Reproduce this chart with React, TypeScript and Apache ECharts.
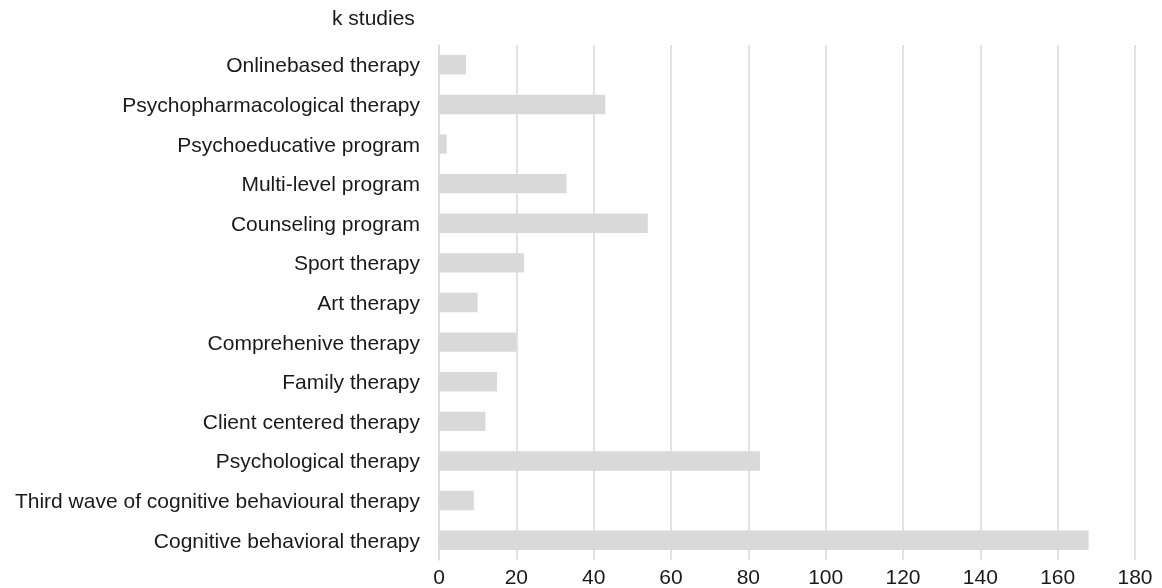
import React, { useEffect, useRef } from "react";
import * as echarts from "echarts";

const categories = [
  "Cognitive behavioral therapy",
  "Third wave of cognitive behavioural therapy",
  "Psychological therapy",
  "Client centered therapy",
  "Family therapy",
  "Comprehenive therapy",
  "Art therapy",
  "Sport therapy",
  "Counseling program",
  "Multi-level program",
  "Psychoeducative program",
  "Psychopharmacological therapy",
  "Onlinebased therapy",
];
const kStudies = [168, 9, 83, 12, 15, 20, 10, 22, 54, 33, 2, 43, 7];
const xTicks = { min: 0, max: 180, interval: 20 };

const FONT = "Liberation Sans, Arial, sans-serif";

export default function App() {
  const ref = useRef<HTMLDivElement>(null);
  useEffect(() => {
    if (!ref.current) return;
    const chart = echarts.init(ref.current, undefined, { renderer: "svg" });
    chart.setOption({
      animation: false,
      textStyle: { fontFamily: FONT },
      graphic: [
        {
          type: "text",
          x: 332,
          y: 17,
          style: {
            text: "k studies",
            fontSize: 21,
            fill: "#1a1a1a",
            fontFamily: FONT,
            verticalAlign: "middle",
          },
        },
      ],
      grid: { left: 439, right: 27, top: 45, bottom: 28, containLabel: false },
      xAxis: {
        type: "value",
        min: xTicks.min,
        max: xTicks.max,
        interval: xTicks.interval,
        axisLine: { show: false },
        axisTick: { show: false },
        splitLine: { show: true, lineStyle: { color: "#d9d9d9", width: 1.5 } },
        axisLabel: { fontSize: 21, color: "#1a1a1a", margin: 6 },
      },
      yAxis: {
        type: "category",
        data: categories,
        axisLine: { show: true, lineStyle: { color: "#d9d9d9", width: 1.5 } },
        axisTick: { show: false },
        axisLabel: { fontSize: 21, color: "#1a1a1a", margin: 19 },
      },
      series: [
        {
          type: "bar",
          data: kStudies,
          barWidth: "49%",
          itemStyle: { color: "#d9d9d9" },
        },
      ],
    });
    return () => chart.dispose();
  }, []);
  return (
    <div
      ref={ref}
      style={{ position: "fixed", left: 0, top: 0, width: 1162, height: 588 }}
    />
  );
}
